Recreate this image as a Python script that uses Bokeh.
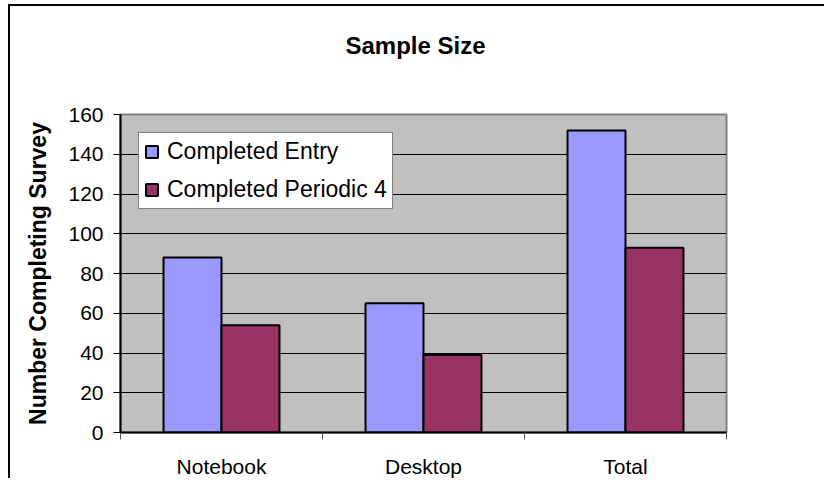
from bokeh.plotting import figure
from bokeh.models import ColumnDataSource, FixedTicker, Range1d, Legend, LegendItem
from bokeh.transform import dodge
from bokeh.embed import file_html
from bokeh.resources import INLINE

categories = ["Notebook", "Desktop", "Total"]
completed_entry = [88, 65, 152]
completed_periodic4 = [54, 39, 93]
y_ticks = [0, 20, 40, 60, 80, 100, 120, 140, 160]
series_names = ["Completed Entry", "Completed Periodic 4"]
chart_title = "Sample Size"
y_label = "Number Completing Survey"

FONT = "Liberation Sans"

xpos = [i + 0.5 for i in range(len(categories))]
src = ColumnDataSource(dict(x=xpos, entry=completed_entry, periodic=completed_periodic4))

p = figure(width=816, height=474, output_backend="svg", toolbar_location=None,
           x_range=Range1d(0, len(categories)), y_range=Range1d(0, y_ticks[-1]),
           min_border_left=110, min_border_top=108, min_border_right=100, min_border_bottom=48)
p.styles = {"margin-left": "8px", "margin-top": "4px",
            "border-left": "2px solid black", "border-top": "2px solid black"}

p.background_fill_color = "#C0C0C0"
p.border_fill_color = "white"
p.outline_line_color = "#808080"
p.outline_line_width = 2

bw = 0.287
r1 = p.vbar(x=dodge("x", -bw / 2, range=p.x_range), top="entry", width=bw, source=src,
            fill_color="#9999FF", line_color="black", line_width=2)
r2 = p.vbar(x=dodge("x", bw / 2, range=p.x_range), top="periodic", width=bw, source=src,
            fill_color="#993366", line_color="black", line_width=2)

# Title
p.title.text = chart_title
p.title.align = "center"
p.title.text_font = FONT
p.title.text_font_size = "24px"
p.title.text_font_style = "bold"
p.title.text_color = "black"
p.title.standoff = 0
p.title.padding = dict(left=0, right=16, top=0, bottom=56)

# y axis
ya = p.yaxis[0]
ya.ticker = FixedTicker(ticks=y_ticks)
ya.axis_label = y_label
ya.axis_label_text_font = FONT
ya.axis_label_text_font_size = "23px"
ya.axis_label_text_font_style = "bold"
ya.axis_label_text_color = "black"
ya.axis_label_standoff = 14
ya.major_label_text_font = FONT
ya.major_label_text_font_size = "21px"
ya.major_label_text_color = "black"
ya.major_label_standoff = 10
ya.major_tick_in = 0
ya.major_tick_out = 7
ya.minor_tick_out = 0
ya.minor_tick_in = 0
ya.axis_line_color = "black"
ya.axis_line_width = 2
ya.major_tick_line_color = "black"

# x axis
xa = p.xaxis[0]
xa.ticker = FixedTicker(ticks=xpos, minor_ticks=list(range(len(categories) + 1)))
xa.major_label_overrides = {x: c for x, c in zip(xpos, categories)}
xa.major_label_text_font = FONT
xa.major_label_text_font_size = "21px"
xa.major_label_text_color = "black"
xa.major_label_standoff = 15
xa.major_tick_in = 0
xa.major_tick_out = 0
xa.minor_tick_in = 0
xa.minor_tick_out = 7
xa.minor_tick_line_color = "#555555"
xa.axis_line_color = "black"
xa.axis_line_width = 2

p.xgrid.grid_line_color = None
p.ygrid.ticker = FixedTicker(ticks=y_ticks)
p.ygrid.grid_line_color = "black"
p.ygrid.grid_line_width = 1

legend = Legend(items=[LegendItem(label=series_names[0], renderers=[r1]),
                       LegendItem(label=series_names[1], renderers=[r2])],
                location="top_left")
legend.margin = 18
legend.padding = 5
legend.spacing = 11
legend.label_height = 24
legend.glyph_height = 15
legend.glyph_width = 15
legend.label_standoff = 8
legend.label_text_font = FONT
legend.label_text_font_size = "23px"
legend.label_text_color = "black"
legend.border_line_color = "black"
legend.border_line_width = 1
legend.background_fill_color = "white"
legend.background_fill_alpha = 1
p.add_layout(legend, "center")

open("out.html", "w").write(file_html(p, INLINE))
